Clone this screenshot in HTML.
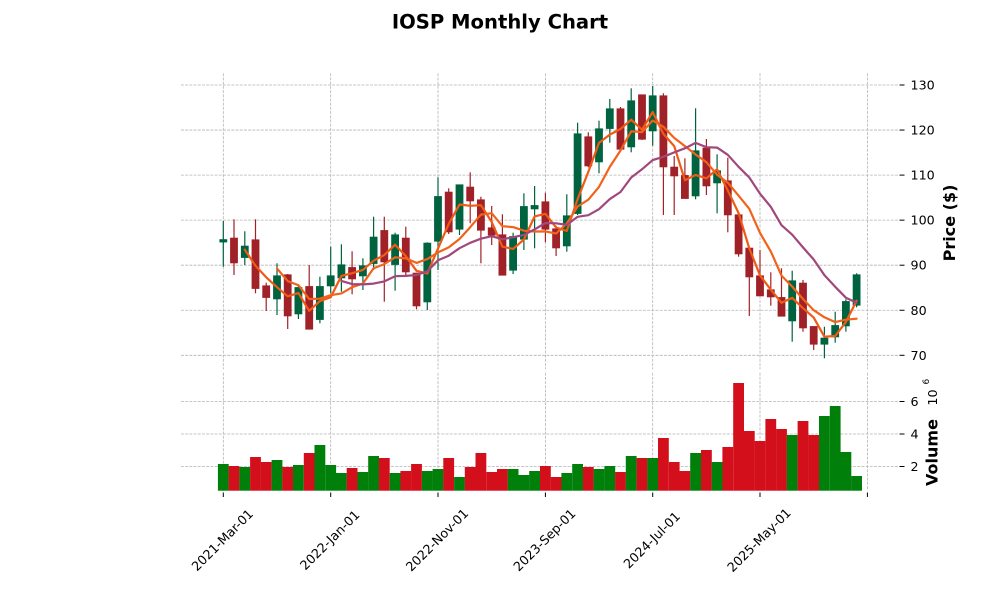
<!DOCTYPE html>
<html><head><meta charset="utf-8"><style>
html,body{margin:0;padding:0;background:#fff;}
svg{display:block;font-family:"DejaVu Sans","Liberation Sans",sans-serif;}
.gr{stroke:#b4b4b4;stroke-width:0.8;stroke-dasharray:2.9 1.3;fill:none;}
.g{fill:#006340;stroke:#006340;}
.r{fill:#a02128;stroke:#a02128;}
.vg{fill:#007f0a;}
.vr{fill:#d30f1c;}
.tk{stroke:#000;stroke-width:1;}
.lbl{font-size:12.7px;fill:#000;}
</style></head><body>
<svg width="1000" height="600" viewBox="0 0 1000 600" xmlns="http://www.w3.org/2000/svg">
<rect width="1000" height="600" fill="#fff"/>
<text x="500" y="28.3" text-anchor="middle" font-weight="bold" font-size="19.6px">IOSP Monthly Chart</text>

<!-- grid price -->
<g class="gr">
<line x1="181" x2="898" y1="85" y2="85"/>
<line x1="181" x2="898" y1="130.05" y2="130.05"/>
<line x1="181" x2="898" y1="175.1" y2="175.1"/>
<line x1="181" x2="898" y1="220.15" y2="220.15"/>
<line x1="181" x2="898" y1="265.2" y2="265.2"/>
<line x1="181" x2="898" y1="310.25" y2="310.25"/>
<line x1="181" x2="898" y1="355.3" y2="355.3"/>
<line x1="223.3" x2="223.3" y1="73.3" y2="369.3"/>
<line x1="330.7" x2="330.7" y1="73.3" y2="369.3"/>
<line x1="438" x2="438" y1="73.3" y2="369.3"/>
<line x1="545.4" x2="545.4" y1="73.3" y2="369.3"/>
<line x1="652.7" x2="652.7" y1="73.3" y2="369.3"/>
<line x1="760" x2="760" y1="73.3" y2="369.3"/>
<line x1="867.4" x2="867.4" y1="73.3" y2="369.3"/>
<line x1="181" x2="898" y1="401.5" y2="401.5"/>
<line x1="181" x2="898" y1="434" y2="434"/>
<line x1="181" x2="898" y1="466.5" y2="466.5"/>
<line x1="223.3" x2="223.3" y1="372.7" y2="490.7"/>
<line x1="330.7" x2="330.7" y1="372.7" y2="490.7"/>
<line x1="438" x2="438" y1="372.7" y2="490.7"/>
<line x1="545.4" x2="545.4" y1="372.7" y2="490.7"/>
<line x1="652.7" x2="652.7" y1="372.7" y2="490.7"/>
<line x1="760" x2="760" y1="372.7" y2="490.7"/>
<line x1="867.4" x2="867.4" y1="372.7" y2="490.7"/>
</g>

<!-- volume -->
<g>
<rect class="vg" x="217.9" y="464" width="10.8" height="26.7"/>
<rect class="vr" x="228.6" y="466" width="10.8" height="24.7"/>
<rect class="vg" x="239.4" y="467" width="10.8" height="23.7"/>
<rect class="vr" x="250.1" y="457" width="10.8" height="33.7"/>
<rect class="vr" x="260.8" y="462" width="10.8" height="28.7"/>
<rect class="vg" x="271.6" y="460" width="10.8" height="30.7"/>
<rect class="vr" x="282.3" y="467" width="10.8" height="23.7"/>
<rect class="vg" x="293" y="465" width="10.8" height="25.7"/>
<rect class="vr" x="303.8" y="453" width="10.8" height="37.7"/>
<rect class="vg" x="314.5" y="445" width="10.8" height="45.7"/>
<rect class="vg" x="325.3" y="465" width="10.8" height="25.7"/>
<rect class="vg" x="336" y="473" width="10.8" height="17.7"/>
<rect class="vr" x="346.7" y="468" width="10.8" height="22.7"/>
<rect class="vg" x="357.5" y="472" width="10.8" height="18.7"/>
<rect class="vg" x="368.2" y="456" width="10.8" height="34.7"/>
<rect class="vr" x="378.9" y="458" width="10.8" height="32.7"/>
<rect class="vg" x="389.7" y="473" width="10.8" height="17.7"/>
<rect class="vr" x="400.4" y="471" width="10.8" height="19.7"/>
<rect class="vr" x="411.1" y="464" width="10.8" height="26.7"/>
<rect class="vg" x="421.9" y="471" width="10.8" height="19.7"/>
<rect class="vg" x="432.6" y="469" width="10.8" height="21.7"/>
<rect class="vr" x="443.3" y="458" width="10.8" height="32.7"/>
<rect class="vg" x="454.1" y="477" width="10.8" height="13.7"/>
<rect class="vr" x="464.8" y="467" width="10.8" height="23.7"/>
<rect class="vr" x="475.5" y="453" width="10.8" height="37.7"/>
<rect class="vr" x="486.3" y="472" width="10.8" height="18.7"/>
<rect class="vr" x="497" y="469" width="10.8" height="21.7"/>
<rect class="vg" x="507.7" y="469" width="10.8" height="21.7"/>
<rect class="vg" x="518.5" y="475" width="10.8" height="15.7"/>
<rect class="vg" x="529.2" y="471" width="10.8" height="19.7"/>
<rect class="vr" x="540" y="466" width="10.8" height="24.7"/>
<rect class="vr" x="550.7" y="477" width="10.8" height="13.7"/>
<rect class="vg" x="561.4" y="473" width="10.8" height="17.7"/>
<rect class="vg" x="572.2" y="464" width="10.8" height="26.7"/>
<rect class="vr" x="582.9" y="467" width="10.8" height="23.7"/>
<rect class="vg" x="593.6" y="469" width="10.8" height="21.7"/>
<rect class="vg" x="604.4" y="466" width="10.8" height="24.7"/>
<rect class="vr" x="615.1" y="472" width="10.8" height="18.7"/>
<rect class="vg" x="625.8" y="456" width="10.8" height="34.7"/>
<rect class="vr" x="636.6" y="458" width="10.8" height="32.7"/>
<rect class="vg" x="647.3" y="458" width="10.8" height="32.7"/>
<rect class="vr" x="658" y="438" width="10.8" height="52.7"/>
<rect class="vr" x="668.8" y="462" width="10.8" height="28.7"/>
<rect class="vr" x="679.5" y="471" width="10.8" height="19.7"/>
<rect class="vg" x="690.2" y="453" width="10.8" height="37.7"/>
<rect class="vr" x="701" y="450" width="10.8" height="40.7"/>
<rect class="vg" x="711.7" y="462" width="10.8" height="28.7"/>
<rect class="vr" x="722.4" y="447" width="10.8" height="43.7"/>
<rect class="vr" x="733.2" y="383" width="10.8" height="107.7"/>
<rect class="vr" x="743.9" y="431" width="10.8" height="59.7"/>
<rect class="vr" x="754.6" y="441" width="10.8" height="49.7"/>
<rect class="vr" x="765.4" y="419" width="10.8" height="71.7"/>
<rect class="vr" x="776.1" y="429" width="10.8" height="61.7"/>
<rect class="vg" x="786.8" y="435" width="10.8" height="55.7"/>
<rect class="vr" x="797.6" y="421" width="10.8" height="69.7"/>
<rect class="vr" x="808.3" y="435" width="10.8" height="55.7"/>
<rect class="vg" x="819" y="416" width="10.8" height="74.7"/>
<rect class="vg" x="829.8" y="406" width="10.8" height="84.7"/>
<rect class="vg" x="840.5" y="452" width="10.8" height="38.7"/>
<rect class="vg" x="851.2" y="476" width="10.8" height="14.7"/>
</g>

<!-- candles -->
<g stroke-width="1.2">
<line class="g" x1="223.3" x2="223.3" y1="221" y2="266.7"/><rect class="g" stroke="none" x="220" y="239.8" width="6.6" height="2"/>
<line class="r" x1="234" x2="234" y1="219.3" y2="275"/><rect class="r" stroke="none" x="230.7" y="238.3" width="6.6" height="24.4"/>
<line class="g" x1="244.8" x2="244.8" y1="231.3" y2="265"/><rect class="g" stroke="none" x="241.5" y="246.3" width="6.6" height="11"/>
<line class="r" x1="255.5" x2="255.5" y1="219.3" y2="293.3"/><rect class="r" stroke="none" x="252.2" y="240" width="6.6" height="48.3"/>
<line class="r" x1="266.2" x2="266.2" y1="282.7" y2="311"/><rect class="r" stroke="none" x="262.9" y="286" width="6.6" height="11.3"/>
<line class="g" x1="277" x2="277" y1="263.3" y2="315"/><rect class="g" stroke="none" x="273.7" y="276" width="6.6" height="22.7"/>
<line class="r" x1="287.7" x2="287.7" y1="274" y2="329"/><rect class="r" stroke="none" x="284.4" y="275" width="6.6" height="40.7"/>
<line class="g" x1="298.4" x2="298.4" y1="285" y2="319"/><rect class="g" stroke="none" x="295.1" y="287.7" width="6.6" height="26"/>
<line class="r" x1="309.2" x2="309.2" y1="265" y2="329.3"/><rect class="r" stroke="none" x="305.9" y="286.7" width="6.6" height="42.3"/>
<line class="g" x1="319.9" x2="319.9" y1="276.7" y2="323.3"/><rect class="g" stroke="none" x="316.6" y="286.7" width="6.6" height="32.6"/>
<line class="g" x1="330.7" x2="330.7" y1="246.7" y2="293.3"/><rect class="g" stroke="none" x="327.4" y="276" width="6.6" height="9.7"/>
<line class="g" x1="341.4" x2="341.4" y1="244.3" y2="291.7"/><rect class="g" stroke="none" x="338.1" y="265" width="6.6" height="12.7"/>
<line class="r" x1="352.1" x2="352.1" y1="251.3" y2="294.3"/><rect class="r" stroke="none" x="348.8" y="267.7" width="6.6" height="11"/>
<line class="g" x1="362.9" x2="362.9" y1="258.3" y2="290"/><rect class="g" stroke="none" x="359.6" y="266" width="6.6" height="9.7"/>
<line class="g" x1="373.6" x2="373.6" y1="216.7" y2="270"/><rect class="g" stroke="none" x="370.3" y="237.3" width="6.6" height="26"/>
<line class="r" x1="384.3" x2="384.3" y1="216.7" y2="301.7"/><rect class="r" stroke="none" x="381" y="230.7" width="6.6" height="31"/>
<line class="g" x1="395.1" x2="395.1" y1="232.7" y2="290.7"/><rect class="g" stroke="none" x="391.8" y="235" width="6.6" height="29.3"/>
<line class="r" x1="405.8" x2="405.8" y1="226.7" y2="275"/><rect class="r" stroke="none" x="402.5" y="238.3" width="6.6" height="33.4"/>
<line class="r" x1="416.5" x2="416.5" y1="272.7" y2="309.3"/><rect class="r" stroke="none" x="413.2" y="273.3" width="6.6" height="32.4"/>
<line class="g" x1="427.3" x2="427.3" y1="242.3" y2="310"/><rect class="g" stroke="none" x="424" y="243.3" width="6.6" height="58.4"/>
<line class="g" x1="438" x2="438" y1="177.3" y2="270"/><rect class="g" stroke="none" x="434.7" y="196.7" width="6.6" height="44.3"/>
<line class="r" x1="448.7" x2="448.7" y1="188.3" y2="234"/><rect class="r" stroke="none" x="445.4" y="192.3" width="6.6" height="39.4"/>
<line class="g" x1="459.5" x2="459.5" y1="185" y2="235"/><rect class="g" stroke="none" x="456.2" y="185" width="6.6" height="44"/>
<line class="r" x1="470.2" x2="470.2" y1="172.3" y2="223.3"/><rect class="r" stroke="none" x="466.9" y="187.3" width="6.6" height="13.4"/>
<line class="r" x1="480.9" x2="480.9" y1="196.7" y2="263.3"/><rect class="r" stroke="none" x="477.6" y="200" width="6.6" height="30"/>
<line class="r" x1="491.7" x2="491.7" y1="206" y2="245"/><rect class="r" stroke="none" x="488.4" y="228" width="6.6" height="7"/>
<line class="r" x1="502.4" x2="502.4" y1="214.3" y2="275"/><rect class="r" stroke="none" x="499.1" y="235" width="6.6" height="40"/>
<line class="g" x1="513.1" x2="513.1" y1="232.7" y2="274"/><rect class="g" stroke="none" x="509.8" y="236.7" width="6.6" height="33.3"/>
<line class="g" x1="523.9" x2="523.9" y1="193.3" y2="250"/><rect class="g" stroke="none" x="520.6" y="206.7" width="6.6" height="32.3"/>
<line class="g" x1="534.6" x2="534.6" y1="186" y2="248.3"/><rect class="g" stroke="none" x="531.3" y="205.7" width="6.6" height="3"/>
<line class="r" x1="545.4" x2="545.4" y1="192.7" y2="242.3"/><rect class="r" stroke="none" x="542.1" y="202" width="6.6" height="27"/>
<line class="r" x1="556.1" x2="556.1" y1="225.7" y2="256"/><rect class="r" stroke="none" x="552.8" y="229" width="6.6" height="18.7"/>
<line class="g" x1="566.8" x2="566.8" y1="194.3" y2="251.7"/><rect class="g" stroke="none" x="563.5" y="216" width="6.6" height="29.7"/>
<line class="g" x1="577.6" x2="577.6" y1="122.7" y2="215"/><rect class="g" stroke="none" x="574.3" y="134" width="6.6" height="79.3"/>
<line class="r" x1="588.3" x2="588.3" y1="132.3" y2="167.3"/><rect class="r" stroke="none" x="585" y="137" width="6.6" height="28.7"/>
<line class="g" x1="599" x2="599" y1="120.7" y2="173.3"/><rect class="g" stroke="none" x="595.7" y="129" width="6.6" height="32.7"/>
<line class="g" x1="609.8" x2="609.8" y1="99" y2="142.7"/><rect class="g" stroke="none" x="606.5" y="109" width="6.6" height="19.3"/>
<line class="r" x1="620.5" x2="620.5" y1="107" y2="149"/><rect class="r" stroke="none" x="617.2" y="109" width="6.6" height="40"/>
<line class="g" x1="631.2" x2="631.2" y1="88.3" y2="152.3"/><rect class="g" stroke="none" x="627.9" y="101" width="6.6" height="45.7"/>
<line class="r" x1="642" x2="642" y1="95" y2="140"/><rect class="r" stroke="none" x="638.7" y="95" width="6.6" height="44"/>
<line class="g" x1="652.7" x2="652.7" y1="86" y2="145.7"/><rect class="g" stroke="none" x="649.4" y="96" width="6.6" height="34.7"/>
<line class="r" x1="663.4" x2="663.4" y1="93.3" y2="215"/><rect class="r" stroke="none" x="660.1" y="96" width="6.6" height="70.7"/>
<line class="r" x1="674.2" x2="674.2" y1="156" y2="215"/><rect class="r" stroke="none" x="670.9" y="167.3" width="6.6" height="8.4"/>
<line class="r" x1="684.9" x2="684.9" y1="158.3" y2="198.3"/><rect class="r" stroke="none" x="681.6" y="175.7" width="6.6" height="22.6"/>
<line class="g" x1="695.6" x2="695.6" y1="108.3" y2="199.3"/><rect class="g" stroke="none" x="692.3" y="151" width="6.6" height="44.7"/>
<line class="r" x1="706.4" x2="706.4" y1="139" y2="195"/><rect class="r" stroke="none" x="703.1" y="148.3" width="6.6" height="37.4"/>
<line class="g" x1="717.1" x2="717.1" y1="154.3" y2="213.3"/><rect class="g" stroke="none" x="713.8" y="171" width="6.6" height="11.7"/>
<line class="r" x1="727.8" x2="727.8" y1="157.7" y2="232.3"/><rect class="r" stroke="none" x="724.5" y="181" width="6.6" height="33.7"/>
<line class="r" x1="738.6" x2="738.6" y1="215" y2="256.7"/><rect class="r" stroke="none" x="735.3" y="215" width="6.6" height="38.7"/>
<line class="r" x1="749.3" x2="749.3" y1="248.3" y2="316"/><rect class="r" stroke="none" x="746" y="248.3" width="6.6" height="28.4"/>
<line class="r" x1="760" x2="760" y1="250" y2="295.7"/><rect class="r" stroke="none" x="756.7" y="276" width="6.6" height="19.7"/>
<line class="r" x1="770.8" x2="770.8" y1="272.3" y2="305.7"/><rect class="r" stroke="none" x="767.5" y="290" width="6.6" height="6.7"/>
<line class="r" x1="781.5" x2="781.5" y1="268.3" y2="316"/><rect class="r" stroke="none" x="778.2" y="297.7" width="6.6" height="18.3"/>
<line class="g" x1="792.2" x2="792.2" y1="270.7" y2="341.7"/><rect class="g" stroke="none" x="788.9" y="281" width="6.6" height="39.7"/>
<line class="r" x1="803" x2="803" y1="280" y2="331.7"/><rect class="r" stroke="none" x="799.7" y="283.3" width="6.6" height="44.4"/>
<line class="r" x1="813.7" x2="813.7" y1="326.7" y2="350"/><rect class="r" stroke="none" x="810.4" y="326.7" width="6.6" height="17.3"/>
<line class="g" x1="824.4" x2="824.4" y1="326.7" y2="358.3"/><rect class="g" stroke="none" x="821.1" y="338.3" width="6.6" height="5.7"/>
<line class="g" x1="835.2" x2="835.2" y1="311.7" y2="342.7"/><rect class="g" stroke="none" x="831.9" y="325.7" width="6.6" height="11"/>
<line class="g" x1="845.9" x2="845.9" y1="299.3" y2="331.7"/><rect class="g" stroke="none" x="842.6" y="301.7" width="6.6" height="24"/>
<line class="g" x1="856.6" x2="856.6" y1="273.3" y2="307.3"/><rect class="g" stroke="none" x="853.3" y="275" width="6.6" height="30"/>
</g>

<!-- moving averages -->
<g fill="none" stroke-width="2.2" stroke-linejoin="round" stroke-linecap="round">
<polyline stroke="#f05a14" points="244.8,249.7 255.5,265.8 266.2,277.3 277.0,287.2 287.7,296.3 298.4,293.1 309.2,310.8 319.9,301.1 330.7,297.2 341.4,275.9 352.1,273.2 362.9,269.9 373.6,260.7 384.3,255 395.1,244.7 405.8,256.1 416.5,270.8 427.3,273.6 438.0,248.6 448.7,223.9 459.5,204.5 470.2,205.8 480.9,205.2 491.7,221.9 502.4,246.7 513.1,248.9 523.9,239.5 534.6,216.4 545.4,213.8 556.1,227.5 566.8,230.9 577.6,199.2 588.3,171.9 599.0,142.9 609.8,134.6 620.5,129 631.2,119.7 642.0,129.7 652.7,112 663.4,133.9 674.2,146.1 684.9,180.2 695.6,175 706.4,178.3 717.1,169.2 727.8,190.5 738.6,213.1 749.3,248.4 760.0,275.4 770.8,289.7 781.5,302.8 792.2,297.9 803.0,308.2 813.7,317.6 824.4,336.7 835.2,336 845.9,321.9 856.6,300.8"/>
<polyline stroke="#f2621a" points="277.0,268.4 287.7,281.1 298.4,285.2 309.2,299 319.9,298.7 330.7,295.2 341.4,293.4 352.1,287.2 362.9,283.6 373.6,268.3 384.3,264.1 395.1,257.3 405.8,258.4 416.5,262.9 427.3,259.1 438.0,252.4 448.7,247.4 459.5,239 470.2,227.2 480.9,214.6 491.7,213.2 502.4,226.2 513.1,227.1 523.9,230.7 534.6,231.5 545.4,231.4 556.1,233.5 566.8,223.6 577.6,206.5 588.3,199.7 599.0,186.9 609.8,166.9 620.5,150.5 631.2,131.3 642.0,132.1 652.7,120.5 663.4,126.8 674.2,137.9 684.9,146.1 695.6,154.5 706.4,162.2 717.1,174.7 727.8,182.7 738.6,195.7 749.3,208.8 760.0,232.9 770.8,251.4 781.5,275.6 792.2,286.6 803.0,299 813.7,310.2 824.4,317.3 835.2,322.1 845.9,319.7 856.6,318.7"/>
<polyline stroke="#a0487c" points="341.4,280.9 352.1,284.1 362.9,284.4 373.6,283.6 384.3,281.4 395.1,276.2 405.8,275.9 416.5,275 427.3,271.3 438.0,260.3 448.7,255.7 459.5,248.2 470.2,242.8 480.9,238.7 491.7,236.2 502.4,239.3 513.1,237.2 523.9,234.9 534.6,229.4 545.4,223 556.1,223.3 566.8,224.9 577.6,216.8 588.3,215.2 599.0,209.2 609.8,199.1 620.5,192 631.2,177.5 642.0,169.3 652.7,160.1 663.4,156.8 674.2,152.4 684.9,148.3 695.6,142.9 706.4,147.2 717.1,147.6 727.8,154.8 738.6,166.8 749.3,177.5 760.0,193.7 770.8,206.8 781.5,225.2 792.2,234.7 803.0,247.4 813.7,259.5 824.4,275.1 835.2,286.8 845.9,297.7 856.6,302.7"/>
</g>

<!-- ticks -->
<g class="tk">
<line x1="899.5" x2="904.5" y1="85" y2="85"/>
<line x1="899.5" x2="904.5" y1="130.05" y2="130.05"/>
<line x1="899.5" x2="904.5" y1="175.1" y2="175.1"/>
<line x1="899.5" x2="904.5" y1="220.15" y2="220.15"/>
<line x1="899.5" x2="904.5" y1="265.2" y2="265.2"/>
<line x1="899.5" x2="904.5" y1="310.25" y2="310.25"/>
<line x1="899.5" x2="904.5" y1="355.3" y2="355.3"/>
<line x1="899.5" x2="904.5" y1="401.5" y2="401.5"/>
<line x1="899.5" x2="904.5" y1="434" y2="434"/>
<line x1="899.5" x2="904.5" y1="466.5" y2="466.5"/>
<line x1="223.3" x2="223.3" y1="492.5" y2="497"/>
<line x1="330.7" x2="330.7" y1="492.5" y2="497"/>
<line x1="438" x2="438" y1="492.5" y2="497"/>
<line x1="545.4" x2="545.4" y1="492.5" y2="497"/>
<line x1="652.7" x2="652.7" y1="492.5" y2="497"/>
<line x1="760" x2="760" y1="492.5" y2="497"/>
<line x1="867.4" x2="867.4" y1="492.5" y2="497"/>
</g>

<g class="lbl" dominant-baseline="central">
<text x="910.5" y="85">130</text>
<text x="910.5" y="130.05">120</text>
<text x="910.5" y="175.1">110</text>
<text x="910.5" y="220.15">100</text>
<text x="910.5" y="265.2">90</text>
<text x="910.5" y="310.25">80</text>
<text x="910.5" y="355.3">70</text>
<text x="910.5" y="401.5">6</text>
<text x="910.5" y="434">4</text>
<text x="910.5" y="466.5">2</text>
</g>

<g class="lbl" text-anchor="middle" dominant-baseline="central">
<text transform="translate(222.3,540) rotate(-45)">2021-Mar-01</text>
<text transform="translate(329.7,540) rotate(-45)">2022-Jan-01</text>
<text transform="translate(437,540) rotate(-45)">2022-Nov-01</text>
<text transform="translate(544.4,540) rotate(-45)">2023-Sep-01</text>
<text transform="translate(651.7,540) rotate(-45)">2024-Jul-01</text>
<text transform="translate(759,540) rotate(-45)">2025-May-01</text>
</g>

<text transform="translate(949.5,223) rotate(-90)" text-anchor="middle" dominant-baseline="central" font-weight="bold" font-size="16px">Price ($)</text>
<text transform="translate(932,452.5) rotate(-90)" text-anchor="middle" dominant-baseline="central" font-weight="bold" font-size="16px">Volume</text>
<text transform="translate(932.5,397.5) rotate(-90)" text-anchor="middle" dominant-baseline="central" font-size="12.7px">10</text>
<text transform="translate(927,381.7) rotate(-90)" text-anchor="middle" dominant-baseline="central" font-size="9px">6</text>
</svg>
</body></html>
